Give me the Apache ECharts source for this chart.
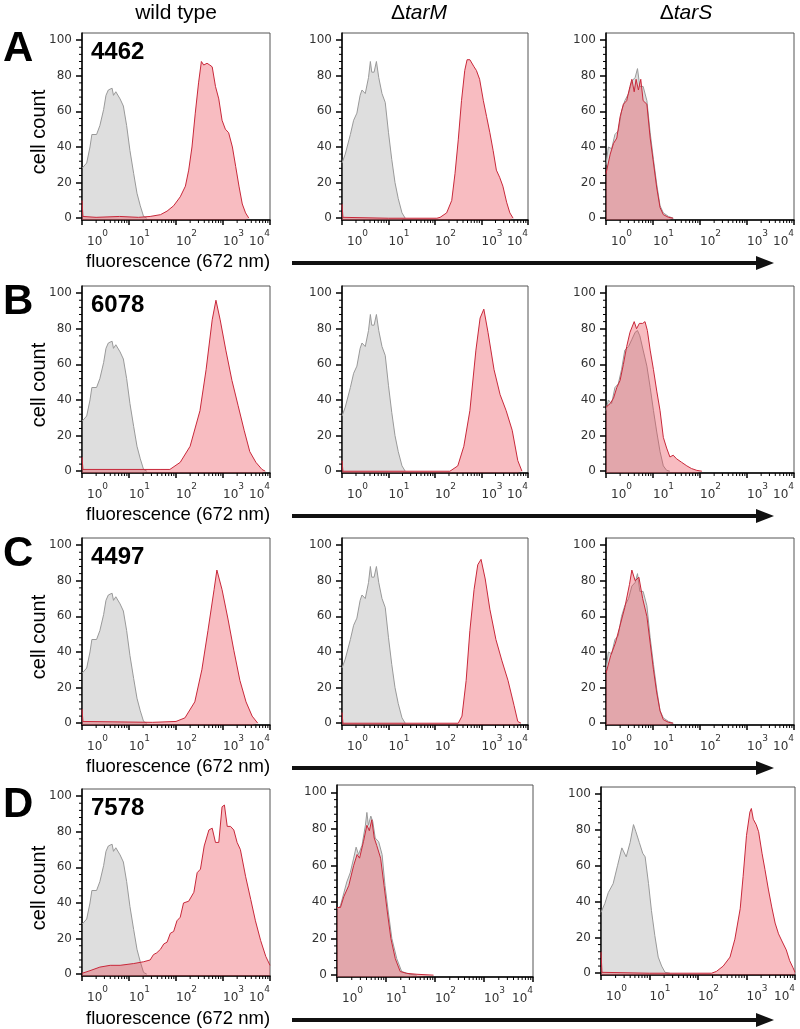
<!DOCTYPE html>
<html><head><meta charset="utf-8">
<script src="https://cdn.jsdelivr.net/npm/echarts@6/dist/echarts.min.js"></script>
<style>html,body{margin:0;padding:0;background:#fff}#c{width:800px;height:1029px}</style>
</head><body><div id="c"></div>
<script>
// ---- DATA (x = log10 fluorescence at 672 nm, y = cell count) ----
const columnTitles = ['wild type', 'tarM', 'tarS'];
const rowLetters = ['A', 'B', 'C', 'D'];
const strainNames = ['4462', '6078', '4497', '7578'];
const xTickExponents = [0, 1, 2, 3, 4];
const yTickValues = [0, 20, 40, 60, 80, 100];

const grayWT = [[0,28],[0.1,31],[0.17,40],[0.21,47],[0.31,47],[0.38,52],[0.46,61],[0.51,69],[0.56,72],[0.6,71],[0.64,73],[0.67,69],[0.72,71],[0.74,72],[0.81,67],[0.88,63],[0.95,52],[1.02,38],[1.1,25],[1.17,14],[1.24,7],[1.31,1],[1.38,0]];
const grayTarM = [[0,31],[0.07,36],[0.18,47],[0.25,55],[0.32,59],[0.39,69],[0.43,72],[0.5,70],[0.57,79],[0.61,88],[0.64,82],[0.69,82],[0.74,88],[0.79,79],[0.86,70],[0.93,65],[1.0,48],[1.07,33],[1.14,20],[1.21,11],[1.29,3],[1.36,0]];
const grayTarS = [[0,30],[0.05,40],[0.12,39],[0.19,47],[0.26,49],[0.33,60],[0.4,66],[0.48,70],[0.55,77],[0.62,79],[0.67,84],[0.72,74],[0.79,74],[0.87,66],[0.94,48],[1.01,33],[1.08,19],[1.15,7],[1.22,3],[1.33,1],[1.43,0]];
const grayB3 = [[0,34],[0.05,40],[0.12,38],[0.19,47],[0.26,49],[0.33,57],[0.4,68],[0.48,70],[0.55,74],[0.62,78],[0.67,79],[0.72,76],[0.79,68],[0.87,59],[0.94,47],[1.01,34],[1.08,22],[1.15,11],[1.22,3],[1.29,0.5],[1.36,0]];
const grayD2 = [[0,36],[0.07,38],[0.14,45],[0.2,51],[0.27,56],[0.34,64],[0.39,70],[0.44,66],[0.51,71],[0.58,82],[0.61,89],[0.64,82],[0.69,87],[0.73,84],[0.78,75],[0.85,73],[0.92,66],[0.98,49],[1.05,34],[1.12,20],[1.22,9],[1.32,2],[1.49,0.5],[1.63,0]];
const grayD3 = [[0,34],[0.08,39],[0.15,45],[0.25,50],[0.34,60],[0.43,70],[0.52,65],[0.6,73],[0.67,83],[0.72,79],[0.79,73],[0.86,67],[0.91,65],[0.98,50],[1.04,35],[1.11,21],[1.18,9],[1.25,4],[1.32,0.5],[1.42,0]];

const redA1 = [[0,10],[0.02,1],[0.3,0.5],[0.8,1],[1.2,0.5],[1.45,1],[1.67,2],[1.81,4],[1.95,7],[2.09,12],[2.2,18],[2.27,27],[2.34,40],[2.41,59],[2.48,76],[2.54,88],[2.59,86],[2.66,87],[2.72,86],[2.77,85],[2.84,74],[2.91,67],[2.98,55],[3.05,50],[3.12,48],[3.2,40],[3.27,29],[3.34,18],[3.41,8],[3.48,3],[3.55,0]];
const redA2 = [[0,8],[0.02,0.5],[1,0],[2.04,0],[2.11,0.5],[2.25,3],[2.36,10],[2.43,25],[2.5,44],[2.57,66],[2.64,83],[2.69,89],[2.75,89],[2.79,88],[2.84,85],[2.89,83],[2.96,78],[3.04,66],[3.11,57],[3.18,48],[3.25,38],[3.32,27],[3.39,23],[3.46,18],[3.54,9],[3.61,3],[3.68,0]];
const redA3 = [[0,25],[0.09,36],[0.16,42],[0.23,45],[0.3,57],[0.37,64],[0.44,66],[0.51,74],[0.55,78],[0.6,71],[0.64,78],[0.69,72],[0.74,78],[0.79,66],[0.87,64],[0.94,45],[1.01,31],[1.08,17],[1.15,6],[1.22,2],[1.33,0.5],[1.43,0]];
const redB1 = [[0,8],[0.02,1],[1,1],[1.66,1],[1.87,1],[2.09,5],[2.3,14],[2.51,34],[2.64,57],[2.77,85],[2.85,96],[2.94,85],[3.06,68],[3.19,51],[3.32,37],[3.45,23],[3.57,11],[3.7,5],[3.83,1],[3.9,0]];
const redB2 = [[0,6],[0.02,0],[2.32,0],[2.49,3],[2.62,14],[2.75,34],[2.88,68],[2.97,86],[3.05,91],[3.14,78],[3.27,57],[3.4,43],[3.53,34],[3.66,23],[3.78,6],[3.87,0]];
const redB3 = [[0,36],[0.09,38],[0.16,41],[0.23,47],[0.3,51],[0.37,60],[0.44,70],[0.51,78],[0.6,84],[0.65,80],[0.71,83],[0.78,83],[0.83,84],[0.88,79],[0.94,68],[1.01,57],[1.08,45],[1.15,34],[1.22,19],[1.29,13],[1.36,8],[1.43,9],[1.5,7],[1.61,5],[1.72,3],[1.82,1.5],[1.93,0.5],[2.04,0]];
const redC1 = [[0,8],[0.02,1],[1.5,0.5],[2.0,1],[2.19,3],[2.4,12],[2.55,30],[2.68,52],[2.81,75],[2.87,86],[2.98,75],[3.11,58],[3.23,41],[3.36,24],[3.49,12],[3.62,4],[3.74,0]];
const redC2 = [[0,6],[0.02,0],[2.5,0],[2.58,4],[2.67,24],[2.75,52],[2.84,75],[2.92,89],[2.99,92],[3.08,81],[3.18,64],[3.31,47],[3.44,35],[3.57,24],[3.7,10],[3.78,1],[3.85,0]];
const redC3 = [[0,28],[0.1,38],[0.2,45],[0.3,55],[0.4,65],[0.5,78],[0.55,86],[0.62,80],[0.7,82],[0.78,70],[0.87,60],[0.94,45],[1.01,30],[1.08,17],[1.15,7],[1.22,2],[1.33,0.5],[1.43,0]];
const redD1 = [[0,0.5],[0.17,2],[0.38,4],[0.6,5],[0.81,5],[1.1,6],[1.31,7],[1.45,8],[1.52,11],[1.59,12],[1.67,14],[1.74,17],[1.81,18],[1.88,23],[1.95,24],[2.02,30],[2.09,32],[2.16,40],[2.27,41],[2.38,46],[2.45,57],[2.52,59],[2.6,72],[2.7,81],[2.77,82],[2.84,74],[2.91,74],[2.98,94],[3.03,95],[3.09,83],[3.16,83],[3.23,81],[3.3,74],[3.37,70],[3.48,55],[3.59,42],[3.69,30],[3.8,19],[3.91,10],[4,5]];
const redD2 = [[0,37],[0.07,37],[0.14,43],[0.24,49],[0.34,60],[0.41,66],[0.46,64],[0.54,73],[0.61,82],[0.66,79],[0.71,85],[0.76,75],[0.81,71],[0.89,64],[0.96,49],[1.03,34],[1.1,20],[1.19,9],[1.29,2],[1.42,1],[1.63,0.5],[1.97,0]];
const redD3 = [[0,12],[0.02,0.5],[1,0],[2.28,0],[2.38,1],[2.52,4],[2.66,9],[2.76,19],[2.87,36],[2.93,54],[3.0,77],[3.07,90],[3.1,92],[3.14,86],[3.2,83],[3.25,79],[3.32,67],[3.38,58],[3.45,47],[3.52,37],[3.59,28],[3.66,22],[3.73,18],[3.77,18],[3.82,13],[3.89,7],[3.96,3],[4.0,0.5]];

const panelGray = [[grayWT, grayTarM, grayTarS],[grayWT, grayTarM, grayB3],[grayWT, grayTarM, grayTarS],[grayWT, grayD2, grayD3]];
const panelRed  = [[redA1, redA2, redA3],[redB1, redB2, redB3],[redC1, redC2, redC3],[redD1, redD2, redD3]];

// ---- LAYOUT ----
const colLeft = [82, 342, 606], colWidth = [188, 186, 188];
const rowTop = [33, 286, 538, 789], rowHeight = 187;
const override = {'3,1': {left: 337, width: 196, top: 785, height: 192}, '3,2': {left: 601, width: 194, top: 787, height: 188}};

const xMinor = [];
for (let d = 0; d < 4; d++) for (let k = 2; k <= 9; k++) xMinor.push(d + Math.log10(k));
const yMinor = [];
for (let v = 0; v <= 100; v += 4) if (v % 20 !== 0) yMinor.push(v);
const minorData = xMinor.map(v => [0, v]).concat(yMinor.map(v => [1, v]));

const YMIN = -1, YMAX = 104;
const font = '"Liberation Sans", Arial, Helvetica, sans-serif';
const tickFont = '"DejaVu Sans", sans-serif';

const grids = [], xAxes = [], yAxes = [], series = [], graphics = [];
let idx = 0;
for (let r = 0; r < 4; r++) {
  for (let c = 0; c < 3; c++) {
    const o = override[r + ',' + c] || {left: colLeft[c], width: colWidth[c], top: rowTop[r], height: rowHeight};
    grids.push({left: o.left, top: o.top, width: o.width, height: o.height, show: true, borderColor: '#555', borderWidth: 1, backgroundColor: 'transparent'});
    xAxes.push({
      gridIndex: idx, type: 'value', min: 0, max: 4, interval: 1,
      axisLine: {show: true, onZero: false, lineStyle: {color: '#000', width: 1.5}},
      axisTick: {show: true, length: 5, lineStyle: {color: '#000', width: 1.5}},
      splitLine: {show: false},
      axisLabel: {
        margin: 9, align: 'left', alignMaxLabel: 'right',
        formatter: function (v) { const n = Math.round(v); return (n === 0 ? '{b0|10}' : '{b|10}') + '{s|' + n + '}'; },
        rich: {
          b: {fontSize: 12, lineHeight: 26, fontFamily: tickFont, color: '#333'},
          b0: {fontSize: 12, lineHeight: 26, fontFamily: tickFont, color: '#333', padding: [0, 0, 0, 5]},
          s: {fontSize: 9, lineHeight: 10, verticalAlign: 'top', fontFamily: tickFont, color: '#333'}
        }
      }
    });
    yAxes.push({
      gridIndex: idx, type: 'value', min: YMIN, max: YMAX,
      axisLine: {show: true, onZero: false, lineStyle: {color: '#000', width: 1.5}},
      axisTick: {show: true, length: 6, customValues: yTickValues, lineStyle: {color: '#000', width: 1.5}},
      axisLabel: {customValues: yTickValues, margin: 10, fontSize: 12, fontFamily: tickFont, color: '#333'},
      splitLine: {show: false}
    });
    series.push({
      type: 'line', xAxisIndex: idx, yAxisIndex: idx, data: panelGray[r][c], showSymbol: false, symbol: 'none',
      lineStyle: {color: '#999999', width: 1}, areaStyle: {color: 'rgba(135,135,135,0.4)', origin: 'start'}, silent: true, z: 2
    });
    series.push({
      type: 'line', xAxisIndex: idx, yAxisIndex: idx, data: panelRed[r][c], showSymbol: false, symbol: 'none',
      lineStyle: {color: '#c8283a', width: 1}, areaStyle: {color: 'rgba(236,65,80,0.5)', origin: 'start'}, silent: true, z: 3
    });
    series.push({
      type: 'custom', xAxisIndex: idx, yAxisIndex: idx, data: minorData, silent: true, clip: false, z: 5,
      renderItem: function (params, api) {
        const kind = api.value(0), v = api.value(1);
        if (kind === 0) {
          const p = api.coord([v, YMIN]);
          return {type: 'line', shape: {x1: p[0], y1: p[1], x2: p[0], y2: p[1] + 3}, style: {stroke: '#000', lineWidth: 1}};
        }
        const p = api.coord([0, v]);
        return {type: 'line', shape: {x1: p[0], y1: p[1], x2: p[0] - 3, y2: p[1]}, style: {stroke: '#000', lineWidth: 1}};
      }
    });
    idx++;
  }
  // row decorations
  const top = rowTop[r], bottom = rowTop[r] + rowHeight + (r === 3 ? 1 : 0);
  graphics.push({type: 'text', left: 3, top: top - 5, style: {text: rowLetters[r], font: 'bold 42px ' + font, fill: '#000'}});
  graphics.push({type: 'text', x: 91, y: top + 19, style: {text: strainNames[r], font: 'bold 24px ' + font, fill: '#000', textVerticalAlign: 'middle'}});
  graphics.push({type: 'text', x: 39, y: top + 99, rotation: Math.PI / 2, style: {text: 'cell count', font: '20px ' + font, fill: '#000', textAlign: 'center', textVerticalAlign: 'middle'}});
  graphics.push({type: 'text', x: 86, y: bottom + 42, style: {text: 'fluorescence (672 nm)', font: '18.5px ' + font, fill: '#000', textVerticalAlign: 'middle'}});
  graphics.push({type: 'line', shape: {x1: 292, y1: bottom + 43, x2: 760, y2: bottom + 43}, style: {stroke: '#111', lineWidth: 4}});
  graphics.push({type: 'polygon', shape: {points: [[756, bottom + 36], [774, bottom + 43], [756, bottom + 50]]}, style: {fill: '#111'}});
}
// column headers
const headerX = [176, 419, 686];
graphics.push({type: 'text', x: headerX[0], y: 13, style: {text: columnTitles[0], font: '21px ' + font, fill: '#000', textAlign: 'center', textVerticalAlign: 'middle'}});
for (let c = 1; c < 3; c++) {
  graphics.push({type: 'text', x: headerX[c], y: 13, style: {
    text: '{n|Δ}{i|' + columnTitles[c] + '}', textAlign: 'center', textVerticalAlign: 'middle',
    rich: {n: {font: '21px ' + font, fill: '#000'}, i: {font: 'italic 21px ' + font, fill: '#000'}}
  }});
}

const chart = echarts.init(document.getElementById('c'), null, {renderer: 'canvas'});
chart.setOption({animation: false, backgroundColor: '#fff', grid: grids, xAxis: xAxes, yAxis: yAxes, series: series, graphic: graphics});
</script></body></html>
